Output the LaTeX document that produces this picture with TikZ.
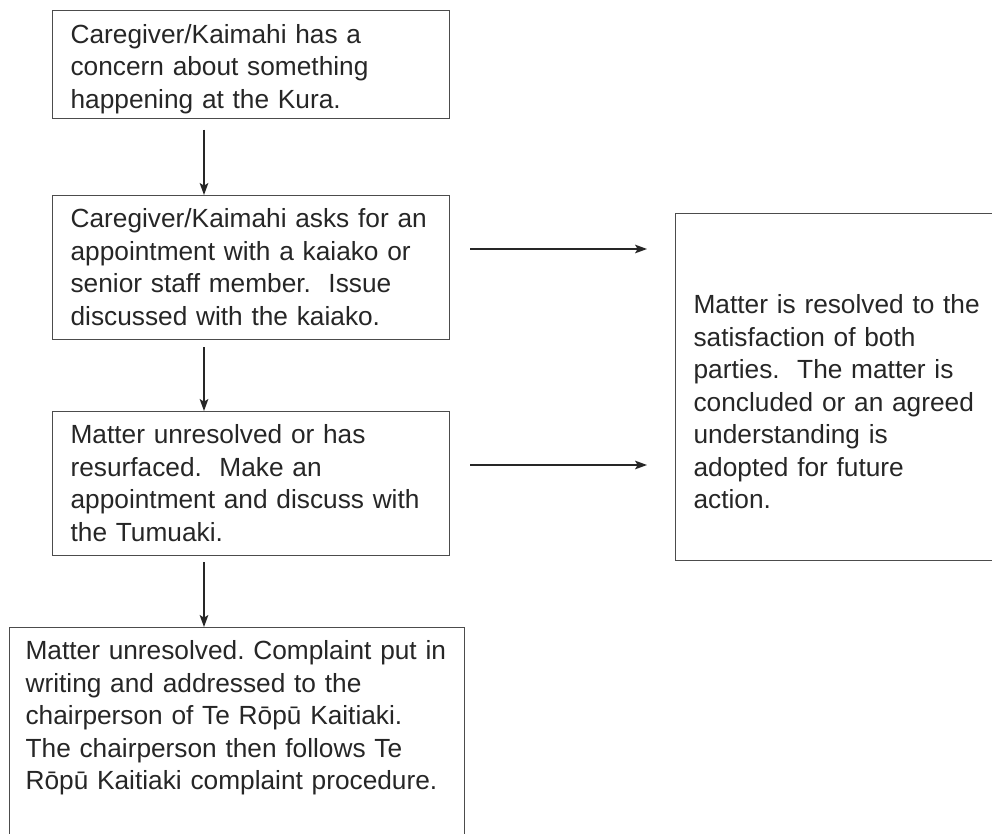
\documentclass[tikz,border=0pt]{standalone}
\usepackage{fontspec}
\setmainfont{Liberation Sans}
\usetikzlibrary{arrows.meta}
\frenchspacing

\tikzset{
  stepbox/.style={draw=black!70, line width=0.9pt, text=black!85, align=left,
    anchor=north west, inner xsep=13.5pt, inner ysep=0pt, text width=#1,
    font=\fontsize{19.7pt}{24.4pt}\selectfont},
  flow/.style={-{Stealth[length=9pt,width=6.5pt,inset=2pt]}, line width=0.9pt, draw=black!85, fill=black!85}
}

\begin{document}
\begin{tikzpicture}[x=0.75pt,y=-0.75pt]
            \useasboundingbox (0,0) rectangle (992,834);
            \clip (0,0) rectangle (992,834);

            \node[stepbox=270.75pt] (concern) at (52,10) {\rule{0pt}{24.4pt}Caregiver/Kaimahi has a\\concern about something\\happening at the Kura.\rule[-8pt]{0pt}{0pt}};
            \node[stepbox=270.75pt] (appointment) at (52,195) {\rule{0pt}{24pt}Caregiver/Kaimahi asks for an\\appointment with a kaiako or\\senior staff member.\ \ Issue\\discussed with the kaiako.\rule[-10.5pt]{0pt}{0pt}};
            \node[stepbox=270.75pt] (tumuaki) at (52,411) {\rule{0pt}{24pt}Matter unresolved or has\\resurfaced.\ \ Make an\\appointment and discuss with\\the Tumuaki.\rule[-10.9pt]{0pt}{0pt}};
            \node[stepbox=317.25pt, inner xsep=12pt] (complaint) at (9,627) {\rule{0pt}{24pt}Matter unresolved. Complaint put in\\writing and addressed to the\\chairperson of Te Rōpū Kaitiaki.\\The chairperson then follows Te\\Rōpū Kaitiaki complaint procedure.\rule[-150pt]{0pt}{0pt}};
            \node[stepbox=225pt] (resolved) at (675,213) {\rule{0pt}{75pt}Matter is resolved to the\\satisfaction of both\\parties.\ \ The matter is\\concluded or an agreed\\understanding is\\adopted for future\\action.\rule[-39pt]{0pt}{0pt}};

            \coordinate (s1) at (204,130);
            \coordinate (s2) at (204,347);
            \coordinate (s3) at (204,562);
            \coordinate (h1) at (470,249);
            \coordinate (h2) at (470,465);

            \draw[flow] (s1) -- (s1 |- appointment.north);
            \draw[flow] (s2) -- (s2 |- tumuaki.north);
            \draw[flow] (s3) -- (s3 |- complaint.north);
            \draw[flow] (h1) -- ([xshift=-21pt]h1 -| resolved.west);
            \draw[flow] (h2) -- ([xshift=-21pt]h2 -| resolved.west);
        \end{tikzpicture}
\end{document}
